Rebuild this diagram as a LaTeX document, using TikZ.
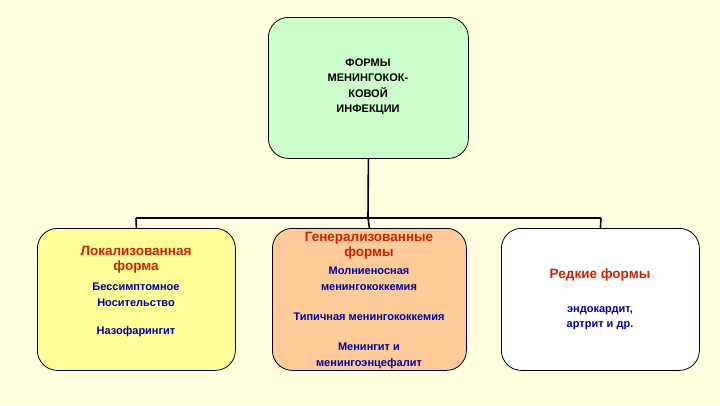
\documentclass[tikz,border=0pt]{standalone}
\usepackage{fontspec}
\setmainfont{Liberation Sans}
\definecolor{bg}{HTML}{FFFFE0}
\definecolor{hd}{HTML}{CC2200}
\definecolor{bd}{HTML}{000099}
\begin{document}
\begin{tikzpicture}[x=1pt,y=-1pt,
 box/.style={draw=black,line width=0.8pt,rounded corners=20pt,anchor=north west,inner sep=0pt},
 hd/.style={text=hd,font=\bfseries\fontsize{13.5}{15}\selectfont,align=center},
 bd/.style={text=bd,font=\bfseries\fontsize{11}{15.5}\selectfont,align=center},
 ln/.style={line width=1.6pt}]
\fill[bg] (0,0) rectangle (720,405);
\node[box,fill={rgb,255:red,204;green,255;blue,204},minimum width=200pt,minimum height=141pt] (top) at (268,17) {};
\node[box,fill={rgb,255:red,255;green,255;blue,153},minimum width=198pt,minimum height=142pt] (l) at (37,228) {};
\node[box,fill={rgb,255:red,255;green,204;blue,153},minimum width=194pt,minimum height=142pt] (m) at (272,228) {};
\node[box,fill=white,minimum width=198pt,minimum height=142pt] (r) at (501,228) {};
\node[font=\bfseries\fontsize{11}{15.5}\selectfont,align=center] (tt) at (368,87) {ФОРМЫ\\МЕНИНГОКОК-\\КОВОЙ\\ИНФЕКЦИИ};
\coordinate (j) at (368,218);
\coordinate (jl) at (136,218);
\coordinate (jr) at (601,218);
\draw[ln] (top.south) -- (j);
\draw[ln] (jl) -- (jr);
\draw[ln] (jl) -- (l.north);
\draw[ln] (j) -- (m.north);
\draw[ln] (jr) -- (r.north);
\node[hd] (lh) at (136,260) {Локализованная\\форма};
\node[bd] (lb) at (136,295) {Бессимптомное\\Носительство};
\node[bd] (lc) at (136,332) {Назофарингит};
\node[hd] (mh) at (369,246) {Генерализованные\\формы};
\node[bd] (m1) at (369,279) {Молниеносная\\менингококкемия};
\node[bd] (m2) at (369,317) {Типичная менингококкемия};
\node[bd] (m3) at (369,356) {Менингит и\\менингоэнцефалит};
\node[hd] (rh) at (600,275) {Редкие формы};
\node[bd] (rb) at (600,318) {эндокардит,\\артрит и др.};
\end{tikzpicture}
\end{document}
